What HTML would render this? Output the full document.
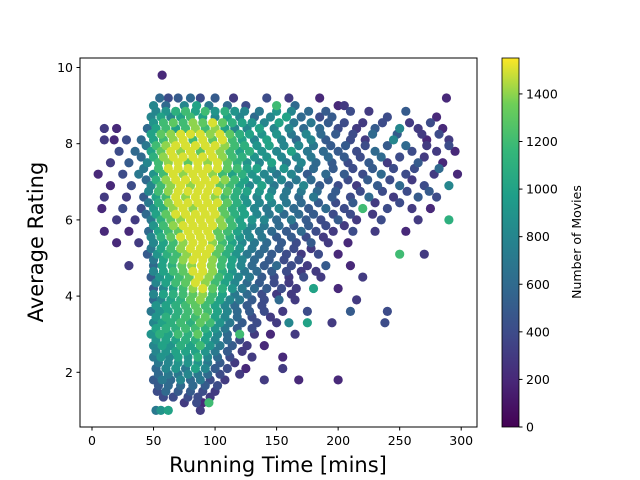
<!DOCTYPE html>
<html><head><meta charset="utf-8"><style>
body{margin:0;background:#fff}
svg{display:block;font-family:"DejaVu Sans","Liberation Sans",sans-serif}
</style></head><body>
<svg id="chart" width="640" height="480" xmlns="http://www.w3.org/2000/svg">
<defs><linearGradient id="vir" x1="0" y1="1" x2="0" y2="0">
<stop offset="0" stop-color="#440154"/><stop offset="0.125" stop-color="#482878"/><stop offset="0.25" stop-color="#3e4a89"/><stop offset="0.375" stop-color="#31688e"/><stop offset="0.5" stop-color="#26828e"/><stop offset="0.625" stop-color="#1f9e89"/><stop offset="0.75" stop-color="#35b779"/><stop offset="0.875" stop-color="#6ece58"/><stop offset="1" stop-color="#fde725"/></linearGradient>
<clipPath id="clip"><rect x="80" y="58" width="397" height="369"/></clipPath></defs>
<g id="points" clip-path="url(#clip)"></g>
<rect x="80" y="58" width="397" height="369" fill="none" stroke="#000" stroke-width="1"/>
<g id="xticks"></g>
<g id="yticks"></g>
<text x="278" y="472" font-size="21" text-anchor="middle">Running Time [mins]</text>
<text transform="translate(43,242) rotate(-90)" font-size="21" text-anchor="middle">Average Rating</text>
<rect x="502" y="58" width="17" height="369" fill="url(#vir)" stroke="#000" stroke-width="0.8"/>
<g id="cticks"></g>
<text transform="translate(581,242) rotate(-90)" font-size="12.5" text-anchor="middle">Number of Movies</text>
</svg>
<script>
const xTicks=[0,50,100,150,200,250,300];
const yTicks=[2,4,6,8,10];
const cTicks=[0,200,400,600,800,1000,1200,1400];
// rows: [rating, [time, count(hundreds), ...]]
const rows=[
[9.8,[57,2]],
[9.2,[55,6,62,4,70,5,80,6,88,4,100,5,115,3,142,4,160,3,185,2,288,2]],
[9.0,[50,8,60,6,75,8,85,10,95,7,110,6,125,4,150,12,165,6,200,2,205,3]],
[8.85,[52,8,60,9,68,11,76,12,84,10,92,12,100,9,108,11,116,9,124,8,136,7,150,9,162,8,176,6,190,5,210,4,225,3,255,5]],
[8.7,[48,8,56,10,64,8,72,10,80,12,90,10,100,8,110,10,120,8,132,6,145,8,158,10,170,6,185,4,195,5,240,4,280,2]],
[8.55,[50,9,58,12,66,13,74,12,82,14,90,13,98,15,106,13,114,11,122,10,130,9,140,8,152,10,164,7,178,7,192,5,205,4,220,3,236,4,258,3,275,4]],
[8.4,[10,3,20,2,45,6,52,10,60,12,68,10,76,12,84,14,92,12,100,14,108,10,116,8,126,8,136,10,148,8,160,8,172,6,185,6,200,4,215,3,230,5,250,8,265,3,285,2]],
[8.25,[48,10,56,13,64,14,72,15,80,15,88,15,96,14,104,15,112,13,120,11,128,10,138,9,150,9,162,7,174,8,186,6,198,5,212,4,228,6,248,5,268,3,282,4]],
[8.1,[10,3,18,2,28,4,40,6,50,10,58,12,66,14,74,15,82,12,90,15,98,13,106,15,114,12,122,10,132,8,142,10,154,8,166,6,178,8,190,5,210,4,222,3,245,8,272,2,290,3]],
[7.95,[44,7,52,12,60,14,68,15,76,15,84,15,92,15,100,15,108,14,116,12,124,11,134,9,144,10,156,8,168,8,180,7,194,5,206,5,222,4,240,5,255,6,272,3,290,4]],
[7.8,[22,4,35,6,48,10,56,13,64,15,72,14,80,15,88,13,96,15,104,14,112,12,120,10,128,11,138,9,150,8,162,10,175,7,188,6,200,5,215,4,230,6,260,4,280,3,295,2]],
[7.65,[40,6,50,11,58,14,66,15,74,15,82,15,90,15,98,15,106,14,114,12,122,11,132,9,142,9,154,8,166,8,178,7,192,6,205,5,218,4,235,6,250,4,270,3]],
[7.5,[15,3,30,5,45,8,54,12,62,14,70,15,78,13,86,15,94,14,102,15,110,13,118,11,126,9,136,8,146,10,158,7,170,8,182,6,195,5,208,4,225,5,240,3,265,5,285,2]],
[7.35,[42,7,54,12,62,15,70,15,78,15,86,15,94,15,102,15,110,13,118,12,126,10,134,10,146,8,156,9,168,7,180,6,196,5,212,4,228,5,245,4,262,4,282,6]],
[7.2,[5,2,25,4,38,7,50,9,58,12,66,15,74,14,82,15,90,15,98,14,106,12,114,10,122,11,130,9,140,8,150,7,162,8,175,5,190,6,205,5,220,4,235,6,255,4,278,3,297,2]],
[7.05,[44,6,52,11,60,14,68,15,76,15,84,15,92,15,100,15,108,14,116,12,124,10,134,9,144,8,154,8,166,7,178,6,192,5,208,4,224,5,242,4,260,3]],
[6.9,[15,2,32,4,48,8,56,12,64,14,72,15,80,14,88,15,96,15,104,13,112,12,120,10,128,8,138,10,148,7,160,6,172,8,185,5,200,4,215,3,232,5,250,6,270,4,290,8]],
[6.75,[46,8,54,12,62,14,70,15,78,15,86,15,94,15,102,15,110,13,118,11,126,10,136,9,146,8,158,7,170,7,183,6,198,5,218,4,236,4,256,4,274,5]],
[6.6,[10,3,28,3,42,5,52,10,60,12,68,15,76,14,84,15,92,15,100,14,108,12,116,11,124,9,134,8,144,9,156,7,168,6,180,7,195,5,210,4,225,6,245,3,265,5,280,4]],
[6.45,[46,7,54,11,62,14,70,15,78,15,86,15,94,15,102,15,110,13,118,11,126,9,136,8,146,8,158,7,170,6,184,5,198,4,212,5,230,3,250,4]],
[6.3,[8,2,25,4,40,4,50,9,58,11,66,14,74,15,82,14,90,15,98,15,106,13,114,11,122,10,132,8,142,7,152,8,164,6,176,5,190,6,205,4,220,12,240,4,260,3,275,2]],
[6.15,[44,6,52,10,60,13,68,15,76,15,84,15,92,15,100,15,108,13,116,11,124,10,134,8,144,7,156,6,168,6,180,5,196,4,210,4,228,3]],
[6.0,[20,3,35,3,48,7,56,11,64,13,72,14,80,15,88,15,96,15,104,14,112,12,120,10,130,9,140,8,150,6,162,7,174,5,186,4,200,5,215,3,235,4,265,3,290,11]],
[5.85,[50,9,58,12,66,14,74,15,82,15,90,15,98,15,106,14,114,12,122,10,130,8,140,7,152,6,164,5,176,5,190,4,205,3]],
[5.7,[10,2,30,2,46,6,54,10,62,12,70,13,78,15,86,15,94,15,102,13,110,12,118,10,126,8,136,7,146,6,158,5,170,6,182,4,196,3,212,4,230,3,255,2]],
[5.55,[48,8,56,11,64,13,72,15,80,15,88,15,96,15,104,13,112,11,120,9,128,8,138,7,150,5,162,5,174,4,188,3]],
[5.4,[20,2,38,3,50,8,58,10,66,12,74,14,82,15,90,15,98,14,106,12,114,10,122,8,132,7,142,6,154,5,166,4,178,5,192,3,208,2]],
[5.25,[48,7,56,10,64,12,72,14,80,15,88,15,96,15,104,13,112,11,120,9,130,7,140,6,152,5,164,4,178,3]],
[5.1,[45,5,53,9,61,11,69,12,77,14,85,15,93,15,101,13,109,11,117,9,126,7,136,6,146,5,158,4,170,3,184,4,200,2,250,12,270,3]],
[4.95,[50,7,58,10,66,12,74,14,82,15,90,15,98,14,106,12,114,10,122,8,132,6,144,5,156,4,168,4]],
[4.8,[30,3,50,6,57,10,65,11,73,13,81,14,89,15,97,14,105,12,113,10,121,8,130,6,140,5,150,6,162,4,175,3,190,5,210,2]],
[4.65,[50,8,58,10,66,12,74,13,82,15,90,15,98,14,106,11,114,9,124,7,134,6,146,5,158,4,170,3,182,3]],
[4.5,[48,5,55,9,63,10,71,12,79,13,87,15,95,14,103,12,111,10,119,8,128,7,138,5,148,4,160,3,172,4,186,3,220,3]],
[4.35,[52,8,60,10,68,12,76,13,84,15,92,14,100,12,108,10,116,8,126,6,136,5,148,4,160,3]],
[4.2,[50,5,58,8,66,10,74,12,82,14,90,15,98,13,106,11,114,9,122,7,132,6,142,5,154,4,166,3,180,10,200,2]],
[4.05,[50,8,58,10,66,11,74,12,82,13,90,14,98,12,106,10,116,7,126,6,138,4,150,3,162,3]],
[3.9,[50,6,56,8,64,10,72,11,80,13,88,14,96,12,104,10,112,8,120,7,130,5,140,4,152,6,165,3,215,3]],
[3.75,[52,9,60,10,68,11,76,12,84,13,92,12,100,10,108,8,116,6,126,5,138,4]],
[3.6,[48,7,55,9,62,10,70,11,78,12,86,13,94,12,102,10,110,8,118,6,128,5,140,4,155,3,175,4,210,5,240,4]],
[3.45,[52,9,60,11,68,11,76,12,84,12,92,13,100,10,108,8,118,6,130,4,145,3]],
[3.3,[50,8,57,10,64,11,72,12,80,11,88,13,96,12,104,9,112,7,122,5,134,4,150,3,160,8,175,10,195,3,238,4]],
[3.15,[52,10,60,11,68,11,76,12,84,12,92,11,100,9,108,7,118,5,130,4]],
[3.0,[48,9,55,11,62,10,70,12,78,11,86,13,94,10,102,8,110,6,120,12,132,3,145,2,165,3]],
[2.85,[52,9,60,10,68,10,76,11,84,11,92,10,100,8,110,6,120,4]],
[2.7,[50,8,57,10,64,9,72,11,80,10,88,12,96,9,104,7,114,5,126,3,140,2]],
[2.55,[52,8,60,9,68,10,76,10,84,10,92,9,100,7,110,5,122,3]],
[2.4,[50,7,56,9,63,8,70,10,78,9,86,11,94,8,102,6,112,4,130,3,155,2]],
[2.25,[54,7,62,8,70,9,78,9,86,9,94,7,104,5,116,3]],
[2.1,[52,6,60,8,68,9,76,7,84,10,92,8,100,5,110,4,125,2,155,3]],
[1.95,[54,6,62,7,70,7,78,8,86,7,94,6,104,4,120,3]],
[1.8,[50,5,57,7,64,6,72,8,80,6,88,7,96,4,108,3,140,3,168,2,200,2]],
[1.65,[54,5,62,6,72,6,82,6,92,5,102,4]],
[1.5,[53,4,60,6,70,5,80,5,90,4,100,3]],
[1.35,[58,4,66,4,78,4,86,4,96,3]],
[1.2,[75,3,85,4,90,2,95,12]],
[1.0,[52,7,56,9,62,10,88,3]]
];
const times=[],ratings=[],counts=[];
rows.forEach(r=>{for(let i=0;i<r[1].length;i+=2){times.push(r[1][i]);ratings.push(r[0]);counts.push(r[1][i+1]*100);}});

const X=v=>92+v*1.2307;
const Y=v=>448.5-v*38.1;
const C=v=>427-v*(369/1551);
const vir=[[68,1,84],[72,40,120],[62,74,137],[49,104,142],[38,130,142],[31,158,137],[53,183,121],[110,206,88],[253,231,37]];
function color(c){let t=Math.max(0,Math.min(1,c/1551))*8;let i=Math.min(7,Math.floor(t));let f=t-i;
const a=vir[i],b=vir[i+1];return `rgb(${a.map((v,k)=>Math.round(v+(b[k]-v)*f)).join(',')})`;}
const NS='http://www.w3.org/2000/svg';
const pg=document.getElementById('points');
const idx=times.map((_,i)=>i).sort((a,b)=>counts[a]-counts[b]);
idx.forEach(i=>{const c=document.createElementNS(NS,'circle');
c.setAttribute('cx',X(times[i]));c.setAttribute('cy',Y(ratings[i]));c.setAttribute('r',4.6);c.setAttribute('fill',color(counts[i]));


pg.appendChild(c);});
function el(tag,attrs,txt){const e=document.createElementNS(NS,tag);for(const k in attrs)e.setAttribute(k,attrs[k]);if(txt!==undefined)e.textContent=txt;return e;}
const xg=document.getElementById('xticks');
xTicks.forEach(v=>{const l=el('line',{x1:X(v),x2:X(v),y1:427,y2:430.5,stroke:'#000'});


xg.appendChild(l);
const t=el('text',{x:X(v),y:445,'font-size':12.5,'text-anchor':'middle'},v);


xg.appendChild(t);});
const yg=document.getElementById('yticks');
yTicks.forEach(v=>{const l=el('line',{x1:76.5,x2:80,y1:Y(v),y2:Y(v),stroke:'#000'});


yg.appendChild(l);
const t=el('text',{x:73,y:Y(v)+4.5,'font-size':12.5,'text-anchor':'end'},v);


yg.appendChild(t);});
const cg=document.getElementById('cticks');
cTicks.forEach(v=>{const l=el('line',{x1:519,x2:522.5,y1:C(v),y2:C(v),stroke:'#000'});


cg.appendChild(l);
const t=el('text',{x:526,y:C(v)+4.5,'font-size':12.5},v);


cg.appendChild(t);});
</script>
</body></html>
